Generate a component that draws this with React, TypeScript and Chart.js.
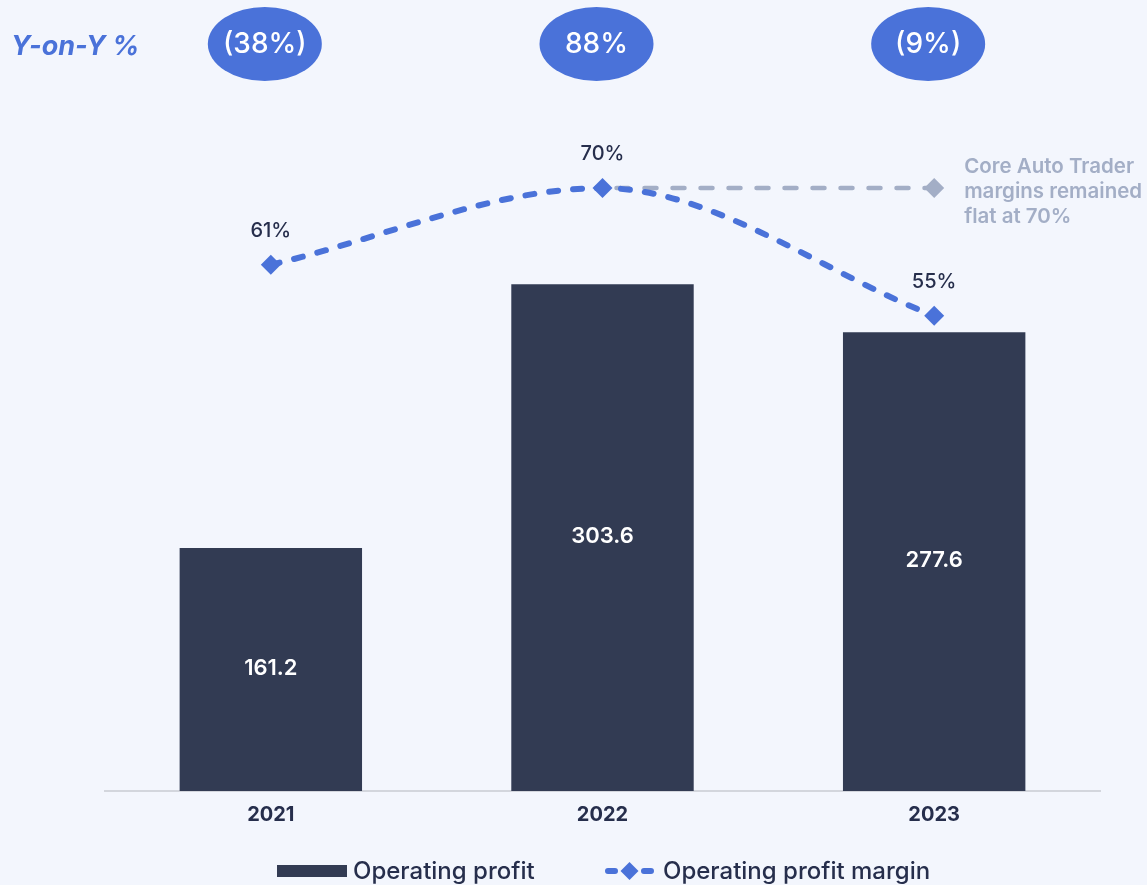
import React, { useEffect, useRef } from "react";
import { Chart, registerables } from "chart.js";

Chart.register(...registerables);

const categories = ["2021", "2022", "2023"];
const operatingProfit = [161.2, 303.6, 277.6];
const profitLabels = ["161.2", "303.6", "277.6"];
const operatingMargin = [61, 70, 55];
const marginLabels = ["61%", "70%", "55%"];
const coreMargin = [null, 70, 70];
const yoyLabels = ["(38%)", "88%", "(9%)"];
const annotationLines = ["Core Auto Trader", "margins remained", "flat at 70%"];
const yoyTitle = "Y-on-Y %";
const legendLabels = ["Operating profit", "Operating profit margin"];

const FONT = "Inter, 'Noto Sans', sans-serif";
const BG = "#F3F6FD";
const BAR = "#323B53";
const BLUE = "#4A72D9";
const GRAY = "#A3AEC6";
const DARK = "#262E4C";

const overlayPlugin = {
  id: "overlay",
  beforeDraw(chart: any) {
    const { ctx, width, height } = chart;
    ctx.save();
    ctx.fillStyle = BG;
    ctx.fillRect(0, 0, width, height);
    ctx.restore();
  },
  afterDatasetsDraw(chart: any) {
    const { ctx, chartArea } = chart;
    const x = chart.scales.x;
    ctx.save();
    // bar value labels
    const barMeta = chart.getDatasetMeta(0);
    ctx.font = `600 22px ${FONT}`;
    ctx.fillStyle = "#FFFFFF";
    ctx.textAlign = "center";
    ctx.textBaseline = "middle";
    barMeta.data.forEach((bar: any, i: number) => {
      const mid = (bar.y + chartArea.bottom) / 2 - 1;
      ctx.fillText(profitLabels[i], bar.x, mid);
    });
    // margin labels
    const lineMeta = chart.getDatasetMeta(1);
    ctx.font = `500 20px ${FONT}`;
    ctx.fillStyle = DARK;
    lineMeta.data.forEach((pt: any, i: number) => {
      ctx.fillText(marginLabels[i], pt.x, pt.y - 34);
    });
    // annotation
    const grayMeta = chart.getDatasetMeta(2);
    const last = grayMeta.data[2];
    ctx.font = `600 20.5px ${FONT}`;
    ctx.fillStyle = GRAY;
    ctx.textAlign = "left";
    annotationLines.forEach((t, i) => {
      ctx.fillText(t, last.x + 30, last.y - 21 + i * 25);
    });
    // Y-on-Y ovals
    categories.forEach((_, i) => {
      const cx = x.getPixelForValue(i) - 6;
      const cy = 44;
      ctx.beginPath();
      ctx.ellipse(cx, cy, 57, 37, 0, 0, Math.PI * 2);
      ctx.fillStyle = BLUE;
      ctx.fill();
      ctx.font = `500 28px ${FONT}`;
      ctx.fillStyle = "#FFFFFF";
      ctx.textAlign = "center";
      ctx.fillText(yoyLabels[i], cx, cy + 1);
    });
    ctx.font = `italic 700 27px ${FONT}`;
    ctx.fillStyle = BLUE;
    ctx.textAlign = "left";
    ctx.fillText(yoyTitle, 11, 47);
    // legend
    const ly = 871;
    ctx.fillStyle = BAR;
    ctx.fillRect(277, ly - 6, 70, 12);
    ctx.font = `500 24px ${FONT}`;
    ctx.fillStyle = DARK;
    ctx.textAlign = "left";
    ctx.fillText(legendLabels[0], 353, ly + 1);
    ctx.strokeStyle = BLUE;
    ctx.lineWidth = 6;
    ctx.lineCap = "round";
    ctx.beginPath();
    ctx.moveTo(608, ly);
    ctx.lineTo(615, ly);
    ctx.moveTo(644, ly);
    ctx.lineTo(651, ly);
    ctx.stroke();
    ctx.beginPath();
    ctx.moveTo(629.5, ly - 9);
    ctx.lineTo(638.5, ly);
    ctx.lineTo(629.5, ly + 9);
    ctx.lineTo(620.5, ly);
    ctx.closePath();
    ctx.fillStyle = BLUE;
    ctx.fill();
    ctx.fillStyle = DARK;
    ctx.fillText(legendLabels[1], 663, ly + 1);
    ctx.restore();
  },
};

export default function App() {
  const ref = useRef<HTMLCanvasElement | null>(null);
  useEffect(() => {
    document.body.style.margin = "0";
    document.body.style.background = BG;
    if (!ref.current) return;
    const chart = new Chart(ref.current, {
      type: "bar",
      data: {
        labels: categories,
        datasets: [
          {
            type: "bar",
            label: legendLabels[0],
            data: operatingProfit,
            backgroundColor: BAR,
            barPercentage: 0.55,
            categoryPercentage: 1,
            yAxisID: "y",
            order: 3,
          },
          {
            type: "line",
            label: legendLabels[1],
            data: operatingMargin,
            borderColor: BLUE,
            backgroundColor: BLUE,
            borderWidth: 6,
            borderDash: [9, 15],
            borderCapStyle: "round",
            cubicInterpolationMode: "monotone",
            pointStyle: "rectRot",
            pointRadius: 10,
            pointBorderWidth: 0,
            pointBackgroundColor: BLUE,
            yAxisID: "y1",
            order: 1,
          },
          {
            type: "line",
            label: "core",
            data: coreMargin,
            borderColor: GRAY,
            backgroundColor: GRAY,
            borderWidth: 4.5,
            borderDash: [12, 16],
            borderDashOffset: -14,
            borderCapStyle: "round",
            tension: 0,
            pointStyle: "rectRot",
            pointRadius: [0, 0, 10],
            pointBorderWidth: 0,
            pointBackgroundColor: GRAY,
            yAxisID: "y1",
            order: 2,
          },
        ] as any,
      },
      options: {
        responsive: false,
        animation: false,
        layout: { padding: { left: 105, right: 47, top: 100, bottom: 46 } },
        plugins: {
          legend: { display: false },
          tooltip: { enabled: false },
        },
        scales: {
          x: {
            grid: { display: false, drawTicks: false },
            border: { display: true, color: "#D3D6DD", width: 2 },
            ticks: {
              color: DARK,
              font: { family: FONT, size: 20, weight: "bold" },
              padding: 12,
            },
          },
          y: {
            display: false,
            min: 30,
            max: 403,
          },
          y1: {
            display: false,
            min: -0.83,
            max: 80.35,
          },
        },
      } as any,
      plugins: [overlayPlugin],
    });
    return () => chart.destroy();
  }, []);
  return <canvas ref={ref} width={1147} height={885} style={{ display: "block" }} />;
}
